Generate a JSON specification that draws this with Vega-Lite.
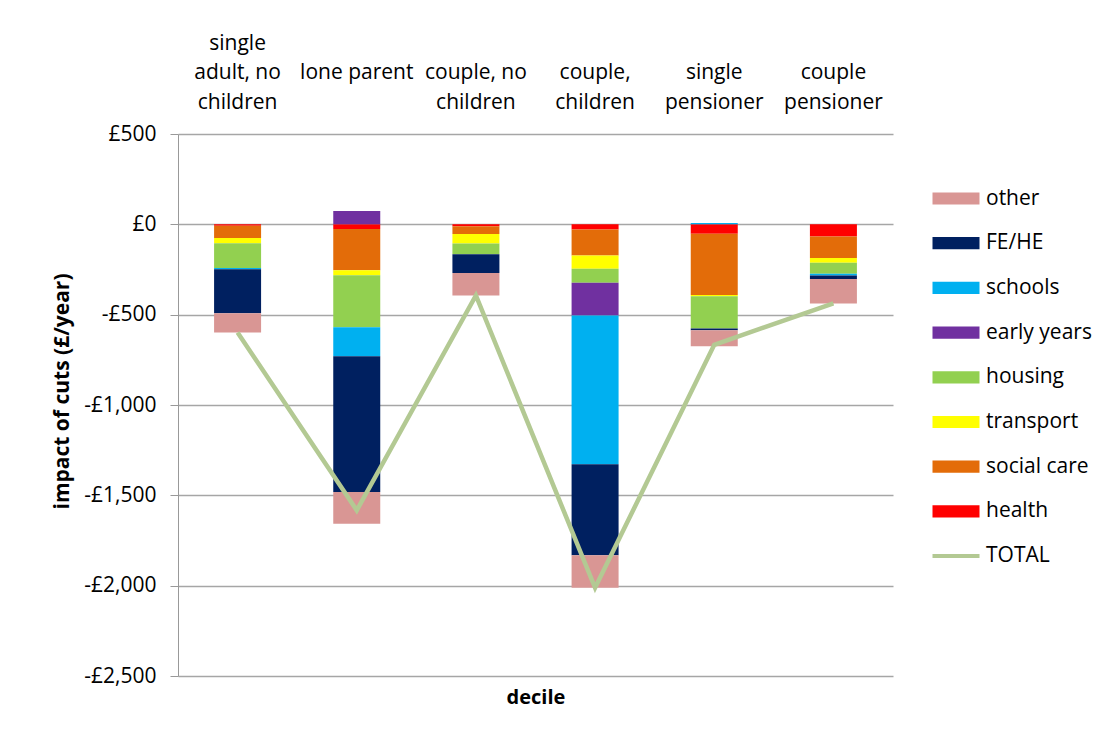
{
  "$schema": "https://vega.github.io/schema/vega-lite/v6.json",
  "width": 715,
  "height": 542,
  "autosize": {"type": "none"},
  "padding": {"left": 178, "top": 134, "right": 211, "bottom": 58},
  "background": "white",
  "config": {
    "font": "Open Sans",
    "view": {"stroke": null},
    "axis": {"labelFont": "Open Sans", "titleFont": "Open Sans", "labelColor": "#000000", "titleColor": "#000000"}
  },
  "datasets": {
    "cuts": [
      {"group": "single adult, no children", "category": "health", "ord": 1, "value": -8},
      {"group": "single adult, no children", "category": "social care", "ord": 2, "value": -67},
      {"group": "single adult, no children", "category": "transport", "ord": 3, "value": -30},
      {"group": "single adult, no children", "category": "housing", "ord": 4, "value": -137},
      {"group": "single adult, no children", "category": "early years", "ord": 5, "value": 0},
      {"group": "single adult, no children", "category": "schools", "ord": 6, "value": -6},
      {"group": "single adult, no children", "category": "FE/HE", "ord": 7, "value": -244},
      {"group": "single adult, no children", "category": "other", "ord": 8, "value": -107},

      {"group": "lone parent", "category": "health", "ord": 1, "value": -26},
      {"group": "lone parent", "category": "social care", "ord": 2, "value": -228},
      {"group": "lone parent", "category": "transport", "ord": 3, "value": -28},
      {"group": "lone parent", "category": "housing", "ord": 4, "value": -287},
      {"group": "lone parent", "category": "early years", "ord": 5, "value": 74},
      {"group": "lone parent", "category": "schools", "ord": 6, "value": -161},
      {"group": "lone parent", "category": "FE/HE", "ord": 7, "value": -751},
      {"group": "lone parent", "category": "other", "ord": 8, "value": -176},

      {"group": "couple, no children", "category": "health", "ord": 1, "value": -11},
      {"group": "couple, no children", "category": "social care", "ord": 2, "value": -43},
      {"group": "couple, no children", "category": "transport", "ord": 3, "value": -52},
      {"group": "couple, no children", "category": "housing", "ord": 4, "value": -59},
      {"group": "couple, no children", "category": "early years", "ord": 5, "value": 0},
      {"group": "couple, no children", "category": "schools", "ord": 6, "value": 0},
      {"group": "couple, no children", "category": "FE/HE", "ord": 7, "value": -105},
      {"group": "couple, no children", "category": "other", "ord": 8, "value": -124},

      {"group": "couple, children", "category": "health", "ord": 1, "value": -29},
      {"group": "couple, children", "category": "social care", "ord": 2, "value": -143},
      {"group": "couple, children", "category": "transport", "ord": 3, "value": -74},
      {"group": "couple, children", "category": "housing", "ord": 4, "value": -78},
      {"group": "couple, children", "category": "early years", "ord": 5, "value": -181},
      {"group": "couple, children", "category": "schools", "ord": 6, "value": -823},
      {"group": "couple, children", "category": "FE/HE", "ord": 7, "value": -503},
      {"group": "couple, children", "category": "other", "ord": 8, "value": -181},

      {"group": "single pensioner", "category": "health", "ord": 1, "value": -52},
      {"group": "single pensioner", "category": "social care", "ord": 2, "value": -339},
      {"group": "single pensioner", "category": "transport", "ord": 3, "value": -7},
      {"group": "single pensioner", "category": "housing", "ord": 4, "value": -179},
      {"group": "single pensioner", "category": "early years", "ord": 5, "value": 0},
      {"group": "single pensioner", "category": "schools", "ord": 6, "value": 8},
      {"group": "single pensioner", "category": "FE/HE", "ord": 7, "value": -9},
      {"group": "single pensioner", "category": "other", "ord": 8, "value": -89},

      {"group": "couple pensioner", "category": "health", "ord": 1, "value": -67},
      {"group": "couple pensioner", "category": "social care", "ord": 2, "value": -120},
      {"group": "couple pensioner", "category": "transport", "ord": 3, "value": -26},
      {"group": "couple pensioner", "category": "housing", "ord": 4, "value": -61},
      {"group": "couple pensioner", "category": "early years", "ord": 5, "value": 0},
      {"group": "couple pensioner", "category": "schools", "ord": 6, "value": -9},
      {"group": "couple pensioner", "category": "FE/HE", "ord": 7, "value": -20},
      {"group": "couple pensioner", "category": "other", "ord": 8, "value": -135}
    ],
    "totals": [
      {"group": "single adult, no children", "value": -599},
      {"group": "lone parent", "value": -1583},
      {"group": "couple, no children", "value": -394},
      {"group": "couple, children", "value": -2012},
      {"group": "single pensioner", "value": -667},
      {"group": "couple pensioner", "value": -437}
    ]
  },
  "resolve": {"axis": {"x": "independent"}},
  "layer": [
    {
      "data": {"name": "cuts"},
      "mark": {"type": "bar", "size": 47},
      "encoding": {
        "x": {
          "field": "group", "type": "nominal",
          "sort": ["single adult, no children", "lone parent", "couple, no children", "couple, children", "single pensioner", "couple pensioner"],
          "scale": {"paddingInner": 0, "paddingOuter": 0},
          "axis": {
            "orient": "top", "title": null, "domain": false, "ticks": false,
            "labelAngle": 0, "labelFontSize": 21, "labelLineHeight": 29.5, "labelPadding": 81,
            "labelExpr": "datum.value == 'single adult, no children' ? ['single', 'adult, no', 'children'] : datum.value == 'couple, no children' ? ['', 'couple, no', 'children'] : datum.value == 'couple, children' ? ['', 'couple,', 'children'] : datum.value == 'single pensioner' ? ['', 'single', 'pensioner'] : datum.value == 'couple pensioner' ? ['', 'couple', 'pensioner'] : ['', '', datum.value]"
          }
        },
        "y": {
          "field": "value", "type": "quantitative", "stack": "zero",
          "scale": {"domain": [-2500, 500], "nice": false},
          "axis": {
            "title": "impact of cuts (£/year)", "titleFontSize": 21, "titleFontWeight": "bold", "titlePadding": 11, "titleY": 257,
            "values": [-2500, -2000, -1500, -1000, -500, 0, 500],
            "labelExpr": "datum.value < 0 ? '-£' + format(-datum.value, ',') : '£' + format(datum.value, ',')",
            "labelFontSize": 21, "labelPadding": 14,
            "domainColor": "#999999", "tickColor": "#999999", "tickSize": 8,
            "gridColor": "#a6a6a6", "gridWidth": 1.3
          }
        },
        "color": {
          "field": "category", "type": "nominal",
          "scale": {
            "domain": ["other", "FE/HE", "schools", "early years", "housing", "transport", "social care", "health", "TOTAL"],
            "range": ["#d99694", "#002060", "#00b0f0", "#7030a0", "#92d050", "#ffff00", "#e36c09", "#ff0000", "#b3c993"]
          },
          "legend": {
            "title": null, "orient": "none", "legendX": 767.5, "legendY": 54,
            "symbolType": "M-1,-0.26H1V0.26H-1Z", "symbolSize": 2209, "symbolStrokeWidth": 0,
            "labelFontSize": 21, "labelFont": "Open Sans", "labelColor": "#000000", "labelOffset": 19.5, "rowPadding": 22.7,
            "encode": {
              "symbols": {
                "update": {
                  "shape": {"signal": "datum.value === 'TOTAL' ? 'M-1,0H1' : 'M-1,-0.26H1V0.26H-1Z'"},
                  "fill": {"signal": "datum.value === 'TOTAL' ? 'transparent' : scale('color', datum.value)"},
                  "stroke": {"signal": "datum.value === 'TOTAL' ? scale('color', datum.value) : 'transparent'"},
                  "strokeWidth": {"signal": "datum.value === 'TOTAL' ? 4 : 0"},
                  "opacity": {"value": 1}
                }
              }
            }
          }
        },
        "order": {"field": "ord", "type": "quantitative"}
      }
    },
    {
      "data": {"name": "totals"},
      "mark": {"type": "line", "strokeWidth": 4.5},
      "encoding": {
        "x": {
          "field": "group", "type": "nominal",
          "sort": ["single adult, no children", "lone parent", "couple, no children", "couple, children", "single pensioner", "couple pensioner"],
          "axis": {
            "orient": "bottom", "title": "decile", "titleFontSize": 20, "titleFontWeight": "bold",
            "labels": false, "ticks": false, "domain": false, "titlePadding": 11
          }
        },
        "y": {"field": "value", "type": "quantitative", "axis": {"title": "impact of cuts (£/year)"}},
        "color": {"datum": "TOTAL"}
      }
    }
  ]
}
